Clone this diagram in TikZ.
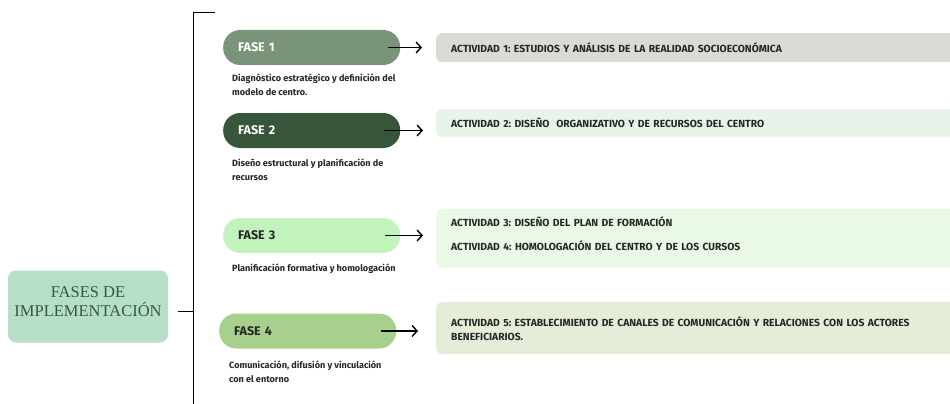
\documentclass[tikz,border=0pt]{standalone}
\usepackage{fontspec}
\setmainfont{Fira Sans}
\newfontfamily\titlefont{Liberation Serif}
\usetikzlibrary{arrows.meta}
\frenchspacing

\definecolor{mint}{HTML}{B5DFC6}
\definecolor{titlegreen}{HTML}{3A5642}
\definecolor{fasea}{HTML}{7A9479}
\definecolor{faseb}{HTML}{375538}
\definecolor{fasec}{HTML}{C3F3BD}
\definecolor{fased}{HTML}{A8D08D}
\definecolor{acta}{HTML}{D8DCD4}
\definecolor{actb}{HTML}{E8F4EA}
\definecolor{actc}{HTML}{EAF8E6}
\definecolor{actd}{HTML}{E3EDD8}
\definecolor{ink}{HTML}{262626}

\tikzset{
    fasebox/.style={rounded corners=17pt, minimum height=35pt, text width=147pt,
        inner xsep=15pt, align=left, anchor=west, font=\bfseries\fontsize{12.5}{14}\selectfont},
    actbox/.style={rounded corners=6pt, minimum width=530pt, text width=500pt,
        inner xsep=13pt, align=left, anchor=north west, text=ink,
        font=\bfseries\fontsize{10.3}{14}\selectfont},
    desc/.style={anchor=north west, align=left, inner sep=0pt, text=ink,
        font=\bfseries\fontsize{9.1}{14}\selectfont},
    arrow/.style={-{Straight Barb[length=5pt,width=11pt]}, line width=1.4pt, black}
}

\begin{document}
\begin{tikzpicture}[x=1pt, y=-1pt]
\useasboundingbox (0,0) rectangle (950,404);

% titulo
\node[fill=mint, rounded corners=8pt, minimum width=160pt, minimum height=72pt,
      align=center, text=titlegreen, font=\titlefont\fontsize{16.5}{19}\selectfont]
      (titulo) at (88,306.5) {FASES DE\\IMPLEMENTACIÓN\\[-10pt]\mbox{}};

% llave
\coordinate (brtop) at (193,12);
\coordinate (brend) at (215,12);
\coordinate (brbot) at (193,404);
\coordinate (brmid) at (193,311);
\draw[line width=0.9pt] (brend) -- (brtop) -- (brbot);
\draw[line width=0.9pt] ([xshift=10pt]titulo.east |- brmid) -- (brmid);

% fases
\node[fasebox, fill=fasea, text=white] (f1) at (223,47.5) {FASE 1};
\node[fasebox, fill=faseb, text=white] (f2) at (223,130.5) {FASE 2};
\node[fasebox, fill=fasec, text=ink] (f3) at (223,235.5) {FASE 3};
\node[fasebox, fill=fased, text=ink] (f4) at (219,331) {FASE 4};

\node[desc] (d1) at (232,74) {Diagnóstico estratégico y definición del\\modelo de centro.};
\node[desc] (d2) at (232,159) {Diseño estructural y planificación de\\recursos};
\node[desc] (d3) at (232,264) {Planificación formativa y homologación};
\node[desc] (d4) at (229,361) {Comunicación, difusión y vinculación\\con el entorno};

% actividades
\node[actbox, fill=acta, minimum height=29pt] (a1) at (436,33)
    {ACTIVIDAD 1: ESTUDIOS Y ANÁLISIS DE LA REALIDAD SOCIOECONÓMICA};
\node[actbox, fill=actb, minimum height=28pt] (a2) at (436,109)
    {ACTIVIDAD 2: DISEÑO\ \ ORGANIZATIVO Y DE RECURSOS DEL CENTRO};
\node[actbox, fill=actc, minimum height=59pt] (a3) at (436,209)
    {ACTIVIDAD 3: DISEÑO DEL PLAN DE FORMACIÓN\\[10pt]ACTIVIDAD 4: HOMOLOGACIÓN DEL CENTRO Y DE LOS CURSOS\\[-4pt]\mbox{}};
\node[actbox, fill=actd, minimum height=52pt] (a5) at (436,302)
    {ACTIVIDAD 5: ESTABLECIMIENTO DE CANALES DE COMUNICACIÓN Y RELACIONES CON LOS ACTORES\\BENEFICIARIOS.};

% flechas
\draw[arrow] ([xshift=-12pt]f1.east) -- ([xshift=-14pt]a1.west |- f1.east);
\draw[arrow] ([xshift=-16pt]f2.east) -- ([xshift=-13pt]a2.west |- f2.east);
\draw[arrow] ([xshift=-15pt]f3.east) -- ([xshift=-13pt]a3.west |- f3.east);
\draw[arrow] ([xshift=-15pt]f4.east) -- ([xshift=-18pt]a5.west |- f4.east);
\end{tikzpicture}
\end{document}
